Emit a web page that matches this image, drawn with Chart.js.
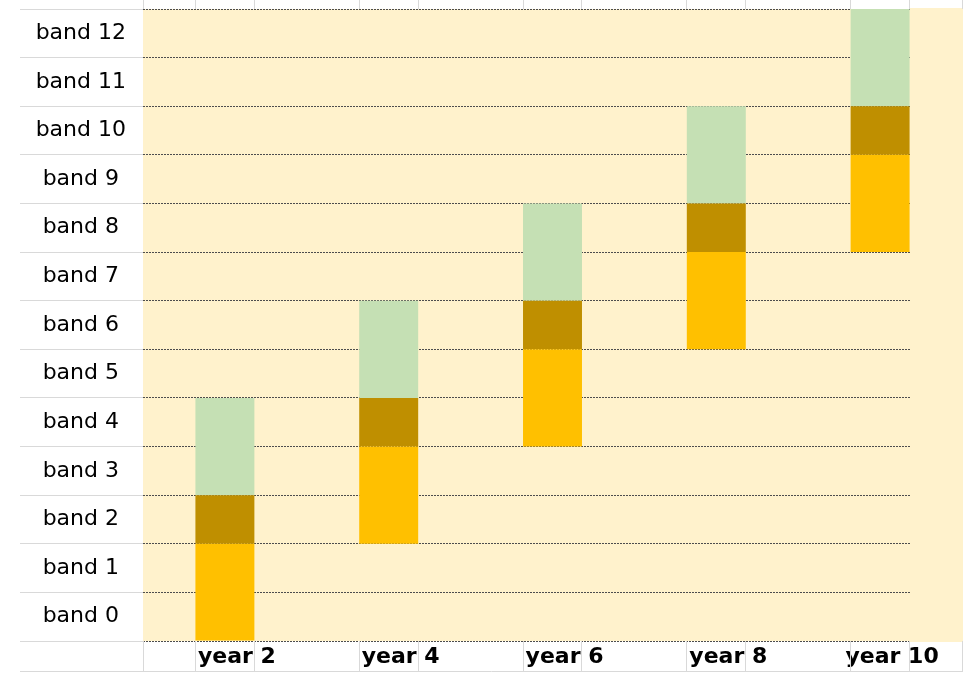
<!DOCTYPE html>
<html>
<head>
<meta charset="utf-8">
<title>Band progression</title>
<script src="https://cdn.jsdelivr.net/npm/chart.js@4.4.1/dist/chart.umd.min.js"></script>
<style>
  html, body { margin: 0; padding: 0; background: #fff; }
  #wrap { width: 963px; height: 673px; }
</style>
</head>
<body>
<div id="wrap"><canvas id="bandChart"></canvas></div>
<script>
// columns along the bottom
const years = ['year 2', 'year 4', 'year 6', 'year 8', 'year 10'];
// row names, bottom row first
const bandLabels = ['band 0', 'band 1', 'band 2', 'band 3', 'band 4', 'band 5', 'band 6',
                    'band 7', 'band 8', 'band 9', 'band 10', 'band 11', 'band 12'];
// [from, to] band span of each block per year
const orangeBands = [[0, 2], [2, 4], [4, 6], [6, 8], [8, 10]];
const goldBands   = [[2, 3], [4, 5], [6, 7], [8, 9], [10, 11]];
const greenBands  = [[3, 5], [5, 7], [7, 9], [9, 11], [11, 13]];

const FILL = '#FFF2CC';
const CELL_LINE = '#d9d9d9';

function align(p) {
    return Math.round(p - 0.5) + 0.5;
}

// spreadsheet look: yellow plot fill and light cell borders around it
const sheetCells = {
    id: 'sheetCells',
    beforeDraw(chart) {
        const { ctx, chartArea: a } = chart;
        ctx.save();
        ctx.fillStyle = FILL;
        ctx.fillRect(a.left, a.top, a.right - a.left, a.bottom - a.top);
        ctx.restore();
    },
    beforeDatasetsDraw(chart) {
        // column after the last bar keeps the fill but has no dotted rules
        const { ctx, chartArea: a } = chart;
        const bars = chart.getDatasetMeta(0).data;
        const last = bars[bars.length - 1];
        const edge = Math.round(last.x + last.width / 2);
        ctx.save();
        ctx.fillStyle = FILL;
        ctx.fillRect(edge, a.top - 1, a.right - edge + 1, a.bottom - a.top + 2);
        ctx.restore();
    },
    afterDraw(chart) {
        const { ctx, chartArea: a, scales: { y } } = chart;
        const sheetBottom = chart.height - 2;
        ctx.save();
        ctx.strokeStyle = CELL_LINE;
        ctx.lineWidth = 1;
        ctx.beginPath();
        // row borders in the label column
        for (let v = y.min; v <= y.max; v++) {
            const py = align(y.getPixelForValue(v));
            ctx.moveTo(y.left, py);
            ctx.lineTo(a.left, py);
        }
        // bottom border of the year row
        ctx.moveTo(y.left, align(sheetBottom));
        ctx.lineTo(chart.width, align(sheetBottom));
        // column borders above and below the plot
        const xs = [a.left, a.right];
        chart.getDatasetMeta(0).data.forEach(bar => {
            xs.push(bar.x - bar.width / 2, bar.x + bar.width / 2);
        });
        xs.forEach(px => {
            const lx = align(px);
            ctx.moveTo(lx, 0);
            ctx.lineTo(lx, a.top);
            ctx.moveTo(lx, a.bottom);
            ctx.lineTo(lx, sheetBottom);
        });
        ctx.stroke();
        ctx.restore();
    }
};

function blocks(label, data, color) {
    return {
        label: label,
        data: data,
        backgroundColor: color,
        borderWidth: 0,
        barPercentage: 0.36,
        categoryPercentage: 1
    };
}

new Chart(document.getElementById('bandChart'), {
    type: 'bar',
    data: {
        labels: years,
        datasets: [
            blocks('orange', orangeBands, '#FFC000'),
            blocks('gold', goldBands, '#BF8F00'),
            blocks('green', greenBands, '#C5E0B4')
        ]
    },
    options: {
        responsive: true,
        maintainAspectRatio: false,
        animation: false,
        layout: { padding: { left: 20, top: 9, right: 1, bottom: 0 } },
        plugins: {
            legend: { display: false },
            tooltip: { enabled: false }
        },
        scales: {
            x: {
                stacked: true,
                grid: { display: false },
                border: { display: false },
                ticks: {
                    color: '#000',
                    font: { family: 'DejaVu Sans', size: 22, weight: 'bold' },
                    padding: -5,
                    labelOffset: 12,
                    maxRotation: 0,
                    autoSkip: false
                },
                afterFit(scale) {
                    scale.height = 32;
                    scale.paddingLeft = 0;
                    scale.paddingRight = 0;
                }
            },
            y: {
                stacked: false,
                min: 0,
                max: 13,
                grid: { color: '#4d4d4d', lineWidth: 1, drawTicks: false },
                border: { display: false, dash: [2, 1] },
                ticks: {
                    stepSize: 1,
                    autoSkip: false,
                    crossAlign: 'center',
                    padding: 17,
                    labelOffset: -24.3,
                    color: '#000',
                    font: { family: 'DejaVu Sans', size: 22 },
                    callback: v => bandLabels[v] ?? ''
                },
                afterFit(scale) {
                    scale.width = 123;
                    scale.paddingTop = 0;
                    scale.paddingBottom = 0;
                }
            }
        }
    },
    plugins: [sheetCells]
});
</script>
</body>
</html>
